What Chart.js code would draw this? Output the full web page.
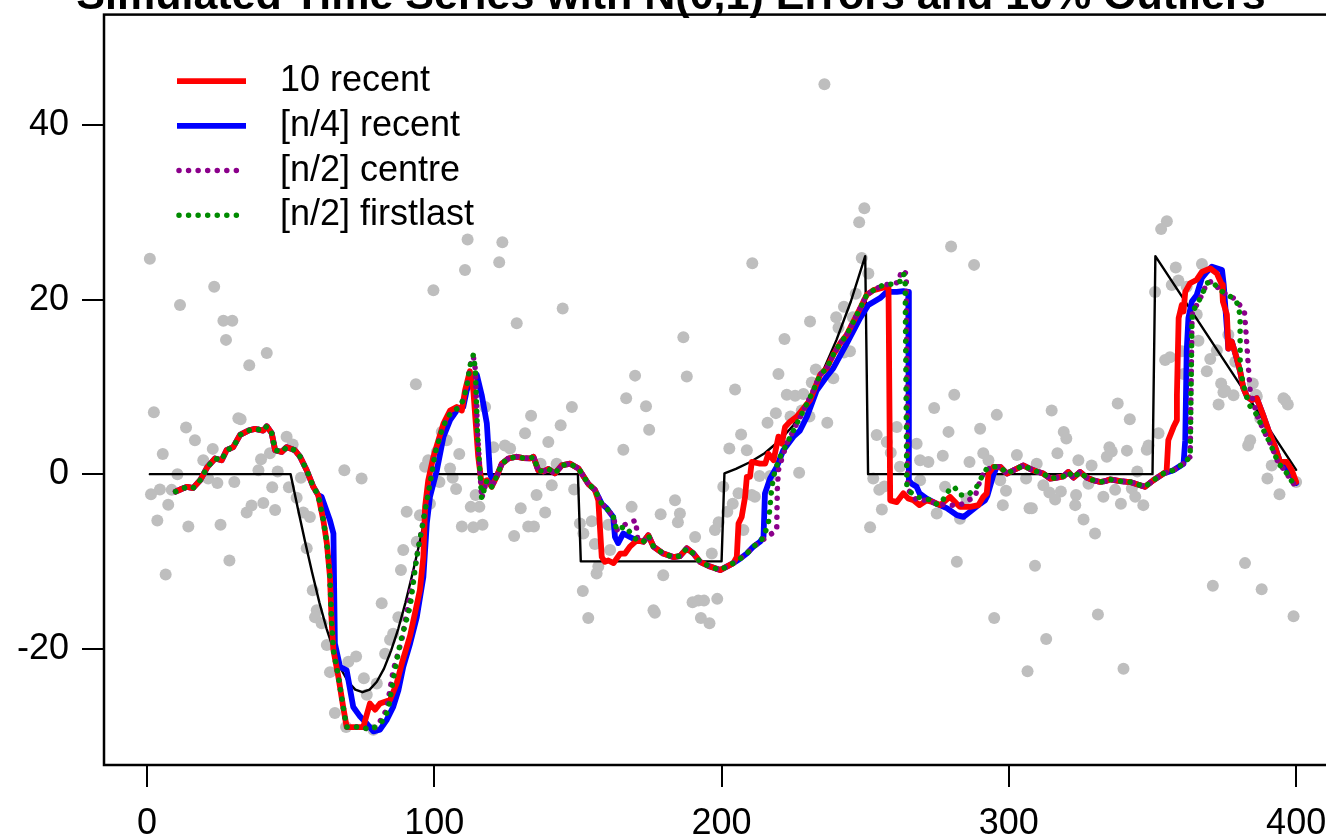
<!DOCTYPE html>
<html>
<head>
<meta charset="utf-8">
<script src="https://cdn.jsdelivr.net/npm/chart.js@4.4.1/dist/chart.umd.min.js"></script>
<style>
  html, body { margin: 0; padding: 0; background: #fff; overflow: hidden; width: 1326px; height: 840px; }
  #c { position: absolute; left: 0; top: -20px; }
</style>
</head>
<body>
<canvas id="c" width="1446" height="860"></canvas>
<script>
// ---- data ----
const xTicks = [0, 100, 200, 300, 400];
const yTicks = [-20, 0, 20, 40];
const titleText = 'Simulated Time Series with N(0,1) Errors and 10% Outliers';
const legendLabels = ['10 recent', '[n/4] recent', '[n/2] centre', '[n/2] firstlast'];

// grey observations [t, y]
const observed = [
  [1,24.7],[23.4,21.5],[11.5,19.4],[26.6,17.6],[29.7,17.6],[27.5,15.4],[41.7,13.9],[35.6,12.5],
  [2.4,7.1],[13.6,5.35],[16.7,3.9],[5.5,2.3],[10.6,0],[4.5,-1.75],[1.4,-2.3],[8.6,-1.8],[7.4,-3.5],
  [3.6,-5.3],[14.4,-6.0],[6.5,-11.5],[19.6,1.6],[22.9,2.9],[21.3,-0.5],[24.5,-1.0],[25.6,-5.8],
  [28.7,-9.9],[30.4,-0.9],[31.8,6.4],[32.6,6.3],[34.7,-4.4],[36.4,-3.6],[38.8,0.45],[40.5,-3.3],
  [39.7,1.7],[42.8,2.4],[43.6,-1.5],[44.6,-4.1],[45.5,0.3],[48.6,4.3],[50.7,3.4],[49.4,-1.5],
  [52.1,-2.7],[53.6,-0.4],[54.4,-4.4],[56.7,-4.9],[55.6,-8.5],[68.7,0.45],[74.7,-0.5],[57.7,-13.3],
  [59.1,-15.6],[58.5,-16.4],[60.8,-17.1],[62.6,-19.6],[63.7,-22.7],[65.4,-27.4],[69.3,-29.0],
  [70.1,-21.5],[72.8,-20.9],[75.5,-23.4],[76.5,-25.3],[80,-24],[81.7,-14.8],[82.9,-20.6],
  [84.6,-19.0],[85.7,-18.3],[87.5,-16.4],[88.4,-11.0],[89.2,-8.7],[90.4,-4.3],[78.8,-29.3],
  [95,-4.7],[93.9,-7.75],[96.8,0.84],[97.9,1.6],[98.5,-3.4],[100.9,2.55],[101.8,-0.9],[102.6,4.85],
  [104.3,3.9],[105.5,0.65],[106.4,-0.4],[107.6,-1.7],[108.7,2.3],[109.6,-6.0],[112.7,-3.75],
  [113.6,-6.1],[114.4,-2.4],[115.7,-3.75],[116.8,-5.8],[117.7,7.7],[120.6,3.1],[124.6,3.3],
  [126.4,2.95],[127.8,-7.1],[130.1,-3.9],[131.6,4.7],[133.7,6.7],[132.7,-6.0],[134.7,-6.0],
  [135.6,-2.4],[137,1.2],[138.6,-4.4],[139.7,3.7],[140.9,-1.26],[142.6,1.2],[144,5.6],[147.9,7.7],
  [148.7,-1.75],[150.7,-5.65],[151.9,-6.8],[154.8,-5.4],[155.9,-8.0],[157.1,-10.6],[156.5,-11.4],
  [151.7,-13.4],[153.6,-16.5],[160.6,-5.8],[161.2,-8.7],[165.8,2.8],[166.8,8.7],[168.7,-3.75],
  [173.7,7.8],[174.8,5.1],[176.3,-15.6],[176.8,-15.9],[178.8,-4.6],[179.7,-11.6],[183.8,-3.0],
  [185.5,-4.5],[184.8,-5.5],[190.8,-7.2],[189.9,-14.7],[191.9,-14.5],[193.9,-14.5],[192.8,-16.5],
  [195.8,-17.1],[196.6,-9.1],[197.7,-6.4],[198.5,-14.3],[199,-5.5],
  [111.6,26.9],[123.7,26.6],[110.7,23.4],[122.6,24.3],[99.7,21.1],[128.7,17.3],[144.7,19.0],
  [186.7,15.7],[169.9,11.3],[187.9,11.2],[93.6,10.3],
  [235.8,44.7],[249.7,30.5],[247.9,28.9],[210.7,24.2],[279.9,26.1],[287.9,24.0],[248.8,24.8],
  [251.1,23.0],[246.7,20.7],[242.6,19.2],[239.9,18.0],[230.8,17.5],[245.7,18.0],[240.7,16.8],
  [221.9,15.5],[244.7,14.1],[242.6,13.95],[232.8,12.0],[219.8,11.5],[238.9,11.0],[231.4,10.5],
  [204.7,9.7],[222.7,9.1],[225.6,9.0],[228.5,9.2],[281,9.1],
  [218.9,7.0],[216,5.9],[236.8,5.9],[206.8,4.55],[208.8,2.75],[202.7,2.95],[200.6,-1.45],[202,-4.3],
  [203.9,-3.4],[205.9,-2.2],[207.6,-6.4],[210.5,-2.4],[211.6,-2.6],[213.2,-0.2],[216.9,-0.2],
  [227,0.15],[224,6.6],[230.6,6.6],[227.9,7.3],[254,4.5],[257.5,3.7],[258.9,2.45],[261,5.4],
  [267.9,3.5],[269.1,1.6],[272,1.4],[274,7.6],[279,4.85],[277,2.1],[290,5.2],[295.8,6.8],
  [286.3,1.4],[291.1,2.4],[292.9,1.6],[302.8,2.2],[252.8,-0.5],[254.9,-1.8],[256.7,-1.4],
  [255.8,-4.05],[251.7,-6.1],[262.1,0.84],[269.1,-0.7],[274.9,-4.5],[277.8,-1.45],[283,-5.1],
  [285.3,-2.8],[297,-0.7],[299,-1.9],[297.9,-3.55],[306,-0.5],[307.2,-3.9],[281.9,-10.05],
  [294.9,-16.5],[306.5,-22.6],
  [314.9,7.3],[337.9,8.1],[342.1,6.3],[319.1,4.85],[320,4.1],[352.1,4.7],[316.9,2.4],[335,3.1],
  [335.8,2.6],[334.1,2.0],[341.1,2.7],[348,2.8],[348.6,3.3],[324.2,1.6],[328.8,1.0],[309.7,1.2],
  [344.7,0.3],[312,-1.26],[314.1,-2.1],[318.1,-2.0],[316.1,-2.9],[323.4,-2.4],[323.1,-3.55],
  [327.7,-1.1],[332.9,-2.6],[337,-1.8],[339,-3.4],[342.8,-1.65],[344,-2.6],[346.8,-3.55],
  [308,-3.9],[326,-5.2],[330,-6.8],[309.1,-10.5],[331,-16.1],[313,-18.9],[339.9,-22.3],
  [373,8.0],[374.7,9.4],[378.2,9.05],[384,3.9],[383.3,3.3],[396.2,8.5],[397.1,8.0],[386.3,8.9],
  [387.5,6.4],[391.5,1.0],[390,-0.5],[394.2,-2.3],[400,-0.9],[382.2,-10.2],[371,-12.8],
  [388,-13.2],[399.1,-16.3],
  [355,29.0],[353,28.1],[358.1,23.7],[367.2,24.1],[359,22.2],[350.9,20.9],[356.7,21.7],
  [361.9,21.5],[365.4,18.3],[376.4,16.0],[366,15.3],[372.4,14.2],[354.4,13.1],[356.1,13.4],
  [360.2,14.1],[370.1,13.2],[368.9,11.8],[378.8,12.9],[360.8,11.5],[373.9,10.4],[375.3,9.6],
  [384.9,10.4],[386,9.1],[395.6,8.7]
];

// true signal (black)
const truth = [
  [1,0],[50,0],[52.5,-3.9],[55,-7.7],[57.5,-11.3],[60,-14.7],[62.5,-17.7],[65,-20.2],[67.5,-22.3],
  [70,-23.8],[72.5,-24.7],[75,-25],[77.5,-24.7],[80,-23.8],[82.5,-22.3],[85,-20.2],[87.5,-17.7],
  [90,-14.7],[92.5,-11.3],[95,-7.7],[97.5,-3.9],[100,0],[150,0],[151,-10],[200,-10],[201,0.1],
  [205,0.6],[210,1.4],[215,2.4],[220,3.8],[225,5.6],[230,8.4],[235,11.6],[240,15.4],[245,19.8],
  [250,25],[251,0],[350,0],[351,25],[400,0.5]
];

// 10 recent (red)
const recent10 = [
  [10,-2.0],[12,-1.7],[14,-1.45],[16,-1.6],[18.5,-0.7],[21,0.8],[23.7,1.8],[26,1.6],[27.7,2.75],
  [30,3.1],[32.4,4.5],[35.3,5.0],[37.6,5.2],[40.5,5.0],[41.7,5.5],[43.4,4.7],[44.6,2.75],[46.9,2.55],
  [48.6,3.1],[51.5,2.75],[53.3,2.0],[55.6,0.45],[57.9,-1.45],[59.6,-2.4],
  [61.4,-5.3],[62.6,-7.9],[63.7,-11.8],[64.3,-17.1],[64.9,-20.2],[66.6,-23.2],[68.3,-26.7],[69.5,-29.0],
  [75.3,-29.0],[77.6,-26.3],[79.4,-27.0],[81.1,-26.3],[84.6,-25.9],[86.9,-24],[88.7,-21.7],[91.6,-18.5],
  [95,-13.3],[96.2,-9.5],[96.8,-3.75],[97.9,-0.7],[99.7,2.0],[103.2,5.8],[105.5,7.3],[107.8,7.7],
  [109.6,7.3],[110.7,9.6],[112.4,11.8],[113.6,9.6],[115.3,2.0],[116.5,-1.1],[118.3,-0.7],[120,-1.45],
  [121.7,-0.3],[123.5,1.2],[125.8,1.8],[128.7,2.0],[131,1.85],[133.3,1.8],[134.5,2.0],[136.2,0.45],
  [138,0.3],[139.7,0.6],[142,0.1],[144.4,1.0],[147.3,1.2],[150.2,0.65],[153.6,-1.1],[155.9,-1.8],
  [157.1,-3.0],[158.3,-9.5],[159.4,-10.05],[160.6,-9.9],[162.4,-10.2],[164.7,-9.1],[166.4,-9.1],
  [168.1,-8.3],[170.5,-7.6],[172.8,-7.75],[174.5,-7.0],[176.3,-8.3],[179.7,-9.1],[183.2,-9.5],
  [185.5,-9.4],[187.9,-8.5],[190.2,-9.1],[192.5,-10.05],[196,-10.6],[199.5,-11.0],[204.1,-10.2],
  [205.3,-9.5],[205.9,-5.65],[207,-4.9],[208.2,-2.6],[208.8,-0.3],[209.9,-0.3],[210.5,1.4],[213.4,1.2],
  [215.2,1.2],[216.3,2.35],[218.1,1.6],[219.8,4.3],[221,3.5],[222.1,5.4],[223.8,6.0],[226.2,6.6],
  [227.9,7.3],[230.8,8.5],[232,9.5],[234.3,11.4],[236.6,12.15],[238.9,13.7],[241.3,15.0],[243.6,16.0],
  [245.9,17.5],[248.2,19.0],[250.5,20.55],[252.9,21.1],[257.5,21.5],[258.1,21.5],[258.7,-3.0],
  [261,-3.2],[263.3,-2.2],[265,-2.8],[266.8,-3.0],[268.9,-3.55],[271.4,-3.0],[273.7,-3.2],[276.1,-3.55],
  [279.5,-2.6],[281.9,-3.4],[283,-3.75],[286.5,-3.75],[289.4,-3.55],[291.1,-2.6],[292.3,-2.2],
  [292.9,0.07],[294.6,0.84],[297,0.84],[299.3,0.07],[301.6,0.45],[305.1,1.0],[307.4,0.6],
  [309.7,0.3],[312,0.07],[314.4,-0.5],[316.7,-0.4],[319,-0.25],[320.7,0.25],[322.5,-0.4],[324.8,0.25],
  [327.1,-0.4],[329.4,-0.7],[331.8,-0.9],[333.5,-0.8],[335.2,-0.6],[338.7,-0.8],[342.2,-0.9],
  [345.7,-1.26],[347.4,-1.45],[350.3,-0.7],[353.8,0.07],[354.9,0.3],[355.5,3.9],[357.3,5.4],
  [358.5,6.2],[358.5,9.1],[359.1,17.9],[360.2,19.4],[360.8,18.65],[361.4,20.9],[363.1,21.9],
  [365.4,22.3],[367.2,23.2],[370.1,23.6],[372.4,23.0],[374.2,21.7],[374.5,19.8],[375.9,18.3],
  [376.4,14.4],[377.6,15.2],[379.3,13.3],[380.5,11.8],[381.6,9.9],[382.9,8.9],[384.6,8.5],[386.3,8.7],
  [388.7,6.6],[390.4,5.0],[392.7,3.1],[394.4,1.4],[396.7,1.4],[398.5,0.45],[400,-0.9]
];

// [n/4] recent (blue)
const recentQuarter = [
  [10,-2.0],[12,-1.7],[14,-1.45],[16,-1.6],[18.5,-0.7],[21,0.8],[23.7,1.8],[26,1.6],[27.7,2.75],
  [30,3.1],[32.4,4.5],[35.3,5.0],[37.6,5.2],[40.5,5.0],[41.7,5.5],[43.4,4.7],[44.6,2.75],[46.9,2.55],
  [48.6,3.1],[51.5,2.75],[53.3,2.0],[55.6,0.45],[57.9,-1.45],[59.6,-2.4],
  [60.8,-2.6],[63.7,-5.3],[64.9,-6.8],[65.4,-19.4],[67.2,-22.1],[69.5,-22.5],[71.8,-26.7],[74.2,-27.8],
  [76.5,-28.6],[78.8,-29.5],[81.1,-29.3],[83.4,-28.2],[85.7,-26.7],[87.5,-24.8],[89.2,-22.1],
  [91.6,-19.4],[93.9,-16.4],[96.2,-11.8],[97.4,-5.65],[98.5,-2.6],[100.9,0.45],[103.2,4.3],[105.5,6.2],
  [107.8,7.3],[110.1,7.7],[111.3,9.6],[113.2,11.2],[114.8,11.4],[116.5,9.1],[118.3,5.8],[119.4,0.1],
  [120,-0.5],[121.7,-0.3],[123.5,1.2],[125.8,1.8],[128.7,2.0],[131,1.85],[133.3,1.8],[134.5,2.0],
  [136.2,0.45],[138,0.3],[139.7,0.6],[142,0.1],[144.4,1.0],[147.3,1.2],[150.2,0.65],[153.6,-1.1],
  [155.9,-1.8],[156.5,-2.2],[158.3,-3.4],[160,-3.9],[162.3,-4.9],[162.9,-7.2],[164,-7.9],[165.8,-6.8],
  [168.1,-7.2],[170.5,-7.6],[172.8,-7.75],[174.5,-7.0],[176.3,-8.3],[179.7,-9.1],[183.2,-9.5],
  [185.5,-9.4],[187.9,-8.5],[190.2,-9.1],[192.5,-10.05],[196,-10.6],[199.5,-11.0],[204.1,-10.2],
  [206.4,-9.7],[208.8,-9.1],[211.1,-8.3],[213.4,-7.75],[214.6,-7.2],[215.1,-2.2],[216.9,-0.5],
  [219.2,0.84],[221.5,2.75],[225,4.3],[227.3,5.0],[229.7,6.6],[233.1,9.6],[236.6,11.2],[238.9,12.15],
  [243.6,15.0],[248.2,17.9],[251.1,19.4],[255.2,20.2],[257.5,20.9],[261,20.9],[263.3,21.0],[265,20.9],
  [265.2,-0.7],[266.2,-1.1],[267.9,-1.45],[268.9,-2.2],[271.4,-2.8],[274.9,-3.4],[278.4,-3.9],
  [281.9,-4.7],[284.2,-4.9],[286.5,-4.3],[290,-3.4],[291.7,-3.0],[292.5,-2.5],[294.6,-0.1],[295.8,0.84],
  [297,0.84],[299.3,0.07],[301.6,0.45],[305.1,1.0],[307.4,0.6],
  [309.7,0.3],[312,0.07],[314.4,-0.5],[316.7,-0.4],[319,-0.25],[320.7,0.25],[322.5,-0.4],[324.8,0.25],
  [327.1,-0.4],[329.4,-0.7],[331.8,-0.9],[333.5,-0.8],[335.2,-0.6],[338.7,-0.8],[342.2,-0.9],
  [345.7,-1.26],[347.4,-1.45],[350.3,-0.7],[353.8,0.07],[357.3,0.45],[360.8,1.2],[361.4,3.9],
  [361.9,14.1],[362.5,17.9],[363.7,19.8],[365.4,20.55],[367.2,22.5],[368.9,23.2],[370.7,23.8],
  [374.2,23.4],[374.8,21.7],[375.3,19.4],[376.4,14.4],[377.6,15.2],[379.3,13.3],[380.5,11.8],
  [381.6,9.9],[382.9,8.9],[384.6,8.5],[386.3,8.7],[388.7,6.6],[390.4,5.0],[392.7,3.1],[394.4,1.4],
  [396.1,0.8],[397.8,0.3],[400,-1.0]
];

// [n/2] centre (purple)
const centreHalf = [
  [10,-2.0],[12,-1.7],[14,-1.45],[16,-1.6],[18.5,-0.7],[21,0.8],[23.7,1.8],[26,1.6],[27.7,2.75],
  [30,3.1],[32.4,4.5],[35.3,5.0],[37.6,5.2],[40.5,5.0],[41.7,5.5],[43.4,4.7],[44.6,2.75],[46.9,2.55],
  [48.6,3.1],[51.5,2.75],[53.3,2.0],[55.6,0.45],[57.9,-1.45],[59.6,-2.4],
  [61.4,-5.3],[62.6,-7.9],[63.7,-11.8],[64.3,-17.1],[64.9,-20.2],[66.6,-23.2],[68.3,-26.7],[69.5,-29.0],
  [75.3,-29.0],[77,-29.3],[80,-29.0],[83.4,-27],[85.7,-22.5],[88.7,-19.0],[91.6,-13.8],[93.9,-9.5],
  [96.2,-5.3],[98.5,-1.1],[100.3,2.4],[102.6,5.0],[104.5,6.5],[106.6,7.3],[108.5,7.6],[110.1,8.5],
  [111.3,10.0],[112.5,12.5],[113.6,13.5],[114.3,12.0],[115,5.0],[116.5,-2.8],[118.3,-0.7],[120,-1.45],
  [121.7,-0.3],[123.5,1.2],[125.8,1.8],[128.7,2.0],[131,1.85],[133.3,1.8],[134.5,2.0],[136.2,0.45],
  [138,0.3],[139.7,0.6],[142,0.1],[144.4,1.0],[147.3,1.2],[150.2,0.65],[153.6,-1.1],[155.9,-1.8],
  [156.5,-2.2],[158.3,-3.4],[160,-3.9],[162.3,-4.9],[163.5,-6.4],[166.8,-5.7],[170.1,-5.3],[170.8,-7.4],
  [172.8,-7.75],[174.5,-7.0],[176.3,-8.3],[179.7,-9.1],[183.2,-9.5],[185.5,-9.4],[187.9,-8.5],
  [190.2,-9.1],[192.5,-10.05],[196,-10.6],[199.5,-11.0],[204.1,-10.2],[206.4,-9.7],[208.8,-9.1],
  [211.1,-8.3],[213.4,-7.75],[216.3,-7.1],[219.2,-6.4],[219.4,-1.8],[219.8,0.45],[221.2,2.0],
  [222.7,3.5],[225.6,5.4],[228.5,7.3],[231.4,9.2],[234.3,11.4],[236.6,12.15],[238.9,13.7],[241.3,15.0],
  [243.6,16.0],[245.9,17.5],[248.2,19.0],[250.5,20.55],[252.9,21.1],[256.3,21.7],[259.2,21.8],
  [261.5,22.0],[262.7,23.4],[264.3,23.0],[264.8,-1.8],[266.2,-2.2],[267.9,-3.0],[271.4,-3.0],
  [274.9,-3.4],[278.4,-3.55],[283,-3.55],[285.8,-3.0],[288.2,-2.6],[290,-0.7],[291.7,0.45],[294.6,0.84],
  [297,0.84],[299.3,0.07],[301.6,0.45],[305.1,1.0],[307.4,0.6],
  [309.7,0.3],[312,0.07],[314.4,-0.5],[316.7,-0.4],[319,-0.25],[320.7,0.25],[322.5,-0.4],[324.8,0.25],
  [327.1,-0.4],[329.4,-0.7],[331.8,-0.9],[333.5,-0.8],[335.2,-0.6],[338.7,-0.8],[342.2,-0.9],
  [345.7,-1.26],[347.4,-1.45],[350.3,-0.7],[353.8,0.07],[357.3,0.45],[360.8,1.2],[363.1,2.0],
  [363.7,17.1],[363.9,18.65],[365.4,19.4],[367.2,20.55],[368.9,21.9],[370.7,22.1],[373.6,21.1],
  [375.9,20.55],[378.2,20.2],[379.9,19.6],[382,18.65],[382.6,16.0],[383.4,12.15],[384,9.6],
  [386.3,6.8],[388.7,5.0],[391,3.5],[393.9,1.2],[396.1,0.45],[397.8,-0.5],[399.5,-1.26]
];

// [n/2] firstlast (green)
const firstLastHalf = [
  [10,-2.0],[12,-1.7],[14,-1.45],[16,-1.6],[18.5,-0.7],[21,0.8],[23.7,1.8],[26,1.6],[27.7,2.75],
  [30,3.1],[32.4,4.5],[35.3,5.0],[37.6,5.2],[40.5,5.0],[41.7,5.5],[43.4,4.7],[44.6,2.75],[46.9,2.55],
  [48.6,3.1],[51.5,2.75],[53.3,2.0],[55.6,0.45],[57.9,-1.45],[59.6,-2.4],
  [61.4,-5.3],[62.6,-7.9],[63.7,-11.8],[64.3,-17.1],[64.9,-20.2],[66.6,-23.2],[68.3,-26.7],[69.5,-29.0],
  [75.3,-29.0],[77,-29.3],[79.5,-29.0],[82.3,-28.2],[84,-27],[85.7,-23.6],[88.1,-19.4],[91.6,-15.2],
  [93.9,-9.5],[96.2,-5.3],[98.5,-1.1],[100.3,2.4],[102.6,5.0],[104.5,6.5],[106.6,7.3],[108.5,7.6],
  [110.1,8.5],[111.3,10.0],[112.5,12.5],[113.6,13.7],[114.3,12.0],[115,5.0],[116.5,-2.8],[118.3,-0.7],
  [120,-1.45],[121.7,-0.3],[123.5,1.2],[125.8,1.8],[128.7,2.0],[131,1.85],[133.3,1.8],[134.5,2.0],
  [136.2,0.45],[138,0.3],[139.7,0.6],[142,0.1],[144.4,1.0],[147.3,1.2],[150.2,0.65],[153.6,-1.1],
  [155.9,-1.8],[156.5,-2.2],[158.3,-3.4],[160,-3.9],[162.3,-4.9],[163.5,-6.4],[166.4,-6.0],[168.5,-6.8],
  [170.5,-7.6],[172.8,-7.75],[174.5,-7.0],[176.3,-8.3],[179.7,-9.1],[183.2,-9.5],[185.5,-9.4],
  [187.9,-8.5],[190.2,-9.1],[192.5,-10.05],[196,-10.6],[199.5,-11.0],[204.1,-10.2],[206.4,-9.7],
  [208.8,-9.1],[211.1,-8.3],[213.4,-7.75],[214.6,-7.2],[216.3,-5.65],[217.5,-1.45],[218.6,0.45],
  [220.4,2.0],[222.7,3.5],[225.6,5.4],[228.5,7.3],[231.4,9.2],[234.3,11.4],[236.6,12.15],[238.9,13.7],
  [241.3,15.0],[243.6,16.0],[245.9,17.5],[248.2,19.0],[250.5,20.55],[252.9,21.1],[256.3,21.7],
  [259.2,21.8],[262.1,22.1],[263.3,23.0],[263.9,22.5],[264.5,-1.45],[265.5,-2.0],[267.9,-2.6],
  [270.5,-2.8],[273.7,-3.0],[275,-3.5],[277,-3.0],[279.5,-1.65],[281,-1.45],[283,-2.4],[285.8,-2.4],
  [288.8,-1.45],[290.6,-0.3],[292.3,0.65],[294.6,0.84],[297,0.84],[299.3,0.07],[301.6,0.45],
  [305.1,1.0],[307.4,0.6],
  [309.7,0.3],[312,0.07],[314.4,-0.5],[316.7,-0.4],[319,-0.25],[320.7,0.25],[322.5,-0.4],[324.8,0.25],
  [327.1,-0.4],[329.4,-0.7],[331.8,-0.9],[333.5,-0.8],[335.2,-0.6],[338.7,-0.8],[342.2,-0.9],
  [345.7,-1.26],[347.4,-1.45],[350.3,-0.7],[353.8,0.07],[357.3,0.45],[360.8,1.2],[363.1,2.0],
  [363.7,17.1],[363.9,18.65],[365.4,19.4],[367.2,20.55],[368.9,21.9],[370.7,22.1],[373.6,21.1],
  [375.9,20.55],[378.2,20.2],[379.9,19.4],[380.5,17.9],[380.5,12.15],[381.6,10.3],[383.5,8.0],
  [386.3,6.8],[388.7,5.0],[391,3.5],[393.9,1.2],[396.1,0.45],[397.8,-0.5],[399.5,-1.26]
];

// ---- chart ----
const FONT = "'Liberation Sans', Arial, Helvetica, sans-serif";
const toXY = arr => arr.map(p => ({ x: p[0], y: p[1] }));

// draws the full R-style box round the plot region
const boxPlugin = {
  id: 'rBox',
  afterDatasetsDraw(chart) {
    const { ctx, chartArea: a } = chart;
    ctx.save();
    ctx.strokeStyle = '#000';
    ctx.lineWidth = 2.5;
    ctx.strokeRect(a.left, a.top, a.right - a.left, a.bottom - a.top);
    ctx.restore();
  }
};

// legend inside the plot, top-left, like R's legend()
const legendPlugin = {
  id: 'rLegend',
  afterDatasetsDraw(chart) {
    const { ctx, chartArea: a } = chart;
    legendLabels.forEach((label, i) => {
      const ds = chart.data.datasets.find(d => d.label === label);
      const y = a.top + 66.6 + i * 44.7;
      ctx.save();
      ctx.strokeStyle = ds.borderColor;
      ctx.lineWidth = ds.borderWidth;
      ctx.lineCap = ds.borderDash ? 'round' : 'butt';
      ctx.beginPath();
      if (ds.borderDash) {
        ctx.setLineDash(ds.borderDash);
        ctx.moveTo(a.left + 75, y);
        ctx.lineTo(a.left + 132.4, y);
      } else {
        ctx.moveTo(a.left + 73, y);
        ctx.lineTo(a.left + 142, y);
      }
      ctx.stroke();
      ctx.setLineDash([]);
      ctx.fillStyle = '#000';
      ctx.font = '36px ' + FONT;
      ctx.textBaseline = 'middle';
      ctx.textAlign = 'left';
      ctx.fillText(label, a.left + 176, y);
      ctx.restore();
    });
  }
};

const lineDs = (label, data, color, width, order, dotted) => ({
  label, data: toXY(data), showLine: true, pointRadius: 0, pointHoverRadius: 0,
  borderColor: color, backgroundColor: color, borderWidth: width, tension: 0,
  borderCapStyle: 'round', borderJoinStyle: 'round',
  borderDash: dotted ? [0.01, 9.55] : undefined, order
});

new Chart(document.getElementById('c'), {
  type: 'scatter',
  data: {
    datasets: [
      { label: 'observed', data: toXY(observed), pointRadius: 6, pointHoverRadius: 6,
        backgroundColor: '#BEBEBE', borderWidth: 0, showLine: false, order: 5 },
      lineDs('truth', truth, '#000000', 2.4, 4, false),
      lineDs(legendLabels[1], recentQuarter, '#0000FF', 5.8, 3, false),
      lineDs(legendLabels[0], recent10, '#FF0000', 5.8, 2, false),
      lineDs(legendLabels[2], centreHalf, '#8B008B', 5.5, 1, true),
      lineDs(legendLabels[3], firstLastHalf, '#008B00', 5.5, 0, true)
    ]
  },
  options: {
    responsive: false,
    animation: false,
    events: [],
    layout: { padding: { left: 0, right: 104, top: 0, bottom: 0 } },
    plugins: {
      legend: { display: false },
      tooltip: { enabled: false },
      title: {
        display: true, text: titleText, color: '#000',
        font: { family: FONT, size: 43, weight: 'bold', lineHeight: 0.8 },
        padding: { top: 0, bottom: 0 }
      }
    },
    scales: {
      x: {
        type: 'linear', min: -14.96, max: 415.96,
        afterBuildTicks: s => { s.ticks = xTicks.map(v => ({ value: v })); },
        afterFit: s => { s.height = 75; },
        border: { display: false },
        grid: { display: true, drawOnChartArea: false, drawTicks: true, tickLength: 22, color: '#000', lineWidth: 2 },
        ticks: { color: '#000', font: { family: FONT, size: 36 }, padding: 15, maxRotation: 0, autoSkip: false }
      },
      y: {
        type: 'linear', min: -33.35, max: 52.7,
        afterBuildTicks: s => { s.ticks = yTicks.map(v => ({ value: v })); },
        afterFit: s => { s.width = 104; },
        border: { display: false },
        grid: { display: true, drawOnChartArea: false, drawTicks: true, tickLength: 22, color: '#000', lineWidth: 2 },
        ticks: { color: '#000', font: { family: FONT, size: 36 }, padding: 13, autoSkip: false }
      }
    }
  },
  plugins: [boxPlugin, legendPlugin]
});
</script>
</body>
</html>
